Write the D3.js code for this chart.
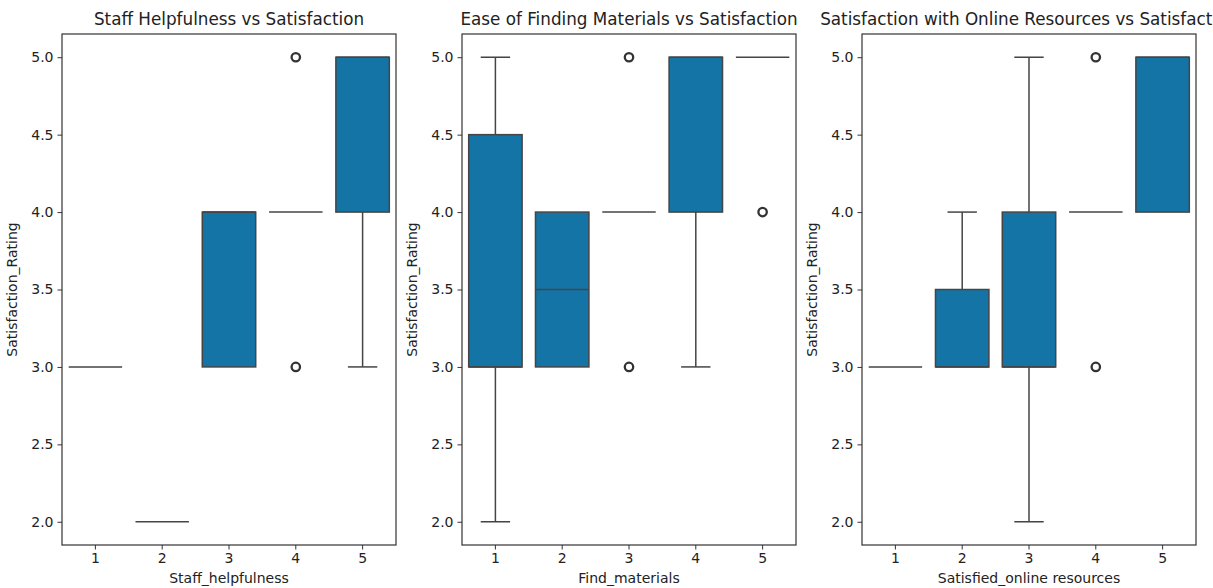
<!DOCTYPE html>
<html>
<head>
<meta charset="utf-8">
<script src="https://cdn.jsdelivr.net/npm/d3@7"></script>
<style>
  body { margin: 0; background: #fff; }
  text { font-family: "DejaVu Sans", sans-serif; fill: #222; }
</style>
</head>
<body>
<svg id="chart" width="1213" height="588"></svg>
<script>
// categories shared by all three panels
var categories = [1, 2, 3, 4, 5];
var yTicks = [2.0, 2.5, 3.0, 3.5, 4.0, 4.5, 5.0];

// panel 1: Staff_helpfulness
var staffQ1 = [3, 2, 3, 4, 4];
var staffMed = [3, 2, 4, 4, 5];
var staffQ3 = [3, 2, 4, 4, 5];
var staffLo = [3, 2, 3, 4, 3];
var staffHi = [3, 2, 4, 4, 5];
var staffOut = [[], [], [], [3, 5], []];

// panel 2: Find_materials
var findQ1 = [3, 3, 4, 4, 5];
var findMed = [3, 3.5, 4, 5, 5];
var findQ3 = [4.5, 4, 4, 5, 5];
var findLo = [2, 3, 4, 3, 5];
var findHi = [5, 4, 4, 5, 5];
var findOut = [[], [], [3, 5], [], [4]];

// panel 3: Satisfied_online resources
var onlineQ1 = [3, 3, 3, 4, 4];
var onlineMed = [3, 3, 3, 4, 5];
var onlineQ3 = [3, 3.5, 4, 4, 5];
var onlineLo = [3, 3, 2, 4, 4];
var onlineHi = [3, 4, 5, 4, 5];
var onlineOut = [[], [], [], [3, 5], []];

var panels = [
  { title: "Staff Helpfulness vs Satisfaction", xlabel: "Staff_helpfulness",
    q1: staffQ1, med: staffMed, q3: staffQ3, lo: staffLo, hi: staffHi, out: staffOut },
  { title: "Ease of Finding Materials vs Satisfaction", xlabel: "Find_materials",
    q1: findQ1, med: findMed, q3: findQ3, lo: findLo, hi: findHi, out: findOut },
  { title: "Satisfaction with Online Resources vs Satisfaction", xlabel: "Satisfied_online resources",
    q1: onlineQ1, med: onlineMed, q3: onlineQ3, lo: onlineLo, hi: onlineHi, out: onlineOut }
];

var fill = "#1474a6";
var lineColor = "#454545";
var panelLeft = [62, 462, 862];
var panelWidth = 334;
var plotTop = 34, plotBottom = 545;

var svg = d3.select("#chart");

var y = d3.scaleLinear().domain([1.85, 5.15]).range([plotBottom, plotTop]);

panels.forEach(function (p, pi) {
  var left = panelLeft[pi];
  var x = d3.scaleBand().domain(categories).range([left, left + panelWidth]).padding(0);
  var boxW = x.bandwidth() * 0.8;
  var capW = boxW * 0.55;
  var g = svg.append("g");

  // boxes
  categories.forEach(function (c, i) {
    var cx = x(c) + x.bandwidth() / 2;
    var bg = g.append("g");
    // whiskers
    bg.append("line").attr("x1", cx).attr("x2", cx)
      .attr("y1", y(p.q3[i])).attr("y2", y(p.hi[i]))
      .attr("stroke", lineColor).attr("stroke-width", 1.5);
    bg.append("line").attr("x1", cx).attr("x2", cx)
      .attr("y1", y(p.q1[i])).attr("y2", y(p.lo[i]))
      .attr("stroke", lineColor).attr("stroke-width", 1.5);
    if (p.hi[i] > p.q3[i]) {
      bg.append("line").attr("x1", cx - capW / 2).attr("x2", cx + capW / 2)
        .attr("y1", y(p.hi[i])).attr("y2", y(p.hi[i]))
        .attr("stroke", lineColor).attr("stroke-width", 1.5);
    }
    if (p.lo[i] < p.q1[i]) {
      bg.append("line").attr("x1", cx - capW / 2).attr("x2", cx + capW / 2)
        .attr("y1", y(p.lo[i])).attr("y2", y(p.lo[i]))
        .attr("stroke", lineColor).attr("stroke-width", 1.5);
    }
    // box
    bg.append("rect")
      .attr("x", cx - boxW / 2).attr("width", boxW)
      .attr("y", y(p.q3[i])).attr("height", Math.max(0, y(p.q1[i]) - y(p.q3[i])))
      .attr("fill", fill).attr("stroke", lineColor).attr("stroke-width", 1.5);
    // median
    bg.append("line").attr("x1", cx - boxW / 2).attr("x2", cx + boxW / 2)
      .attr("y1", y(p.med[i])).attr("y2", y(p.med[i]))
      .attr("stroke", lineColor).attr("stroke-width", 1.5);
    // outliers
    bg.selectAll("circle").data(p.out[i]).enter().append("circle")
      .attr("cx", cx).attr("cy", function (d) { return y(d); })
      .attr("r", 4.2).attr("fill", "none")
      .attr("stroke", "#333").attr("stroke-width", 2.3);
  });

  // frame
  g.append("rect").attr("x", left).attr("y", plotTop)
    .attr("width", panelWidth).attr("height", plotBottom - plotTop)
    .attr("fill", "none").attr("stroke", "#333").attr("stroke-width", 1.2);

  // axes
  var xAxis = g.append("g").attr("transform", "translate(0," + plotBottom + ")")
    .call(d3.axisBottom(x).tickSize(4.5).tickPadding(4));
  var yAxis = g.append("g").attr("transform", "translate(" + left + ",0)")
    .call(d3.axisLeft(y).tickValues(yTicks).tickFormat(d3.format(".1f")).tickSize(4.5).tickPadding(4));
  [xAxis, yAxis].forEach(function (a) {
    a.select(".domain").remove();
    a.selectAll(".tick line").attr("stroke", "#333").attr("stroke-width", 1);
    a.selectAll(".tick text").attr("font-size", 14).attr("fill", "#222")
      .attr("font-family", "DejaVu Sans, sans-serif");
  });

  // title and labels
  g.append("text").attr("x", left + panelWidth / 2).attr("y", 25)
    .attr("text-anchor", "middle").attr("font-size", 16.8).text(p.title);
  g.append("text").attr("x", left + panelWidth / 2).attr("y", 583)
    .attr("text-anchor", "middle").attr("font-size", 14).text(p.xlabel);
  g.append("text")
    .attr("transform", "translate(" + (left - 45) + "," + ((plotTop + plotBottom) / 2) + ") rotate(-90)")
    .attr("text-anchor", "middle").attr("font-size", 14).text("Satisfaction_Rating");
});
</script>
</body>
</html>
